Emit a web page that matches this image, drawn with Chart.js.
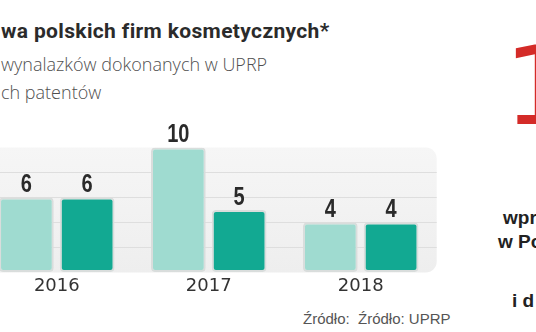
<!DOCTYPE html>
<html lang="pl">
<head>
<meta charset="utf-8">
<script src="https://cdn.jsdelivr.net/npm/chart.js@4.4.1/dist/chart.umd.min.js"></script>
<style>
  html, body { margin: 0; padding: 0; background: #fff; }
  body { width: 536px; height: 332px; overflow: hidden; position: relative; }
  .t { position: absolute; white-space: pre; }
  #title { left: 1px; top: 19px; font: 700 21px Roboto, sans-serif; letter-spacing: 0.35px; color: #2b2b2b; }
  .sub { left: 1px; font: 300 18px "Open Sans", sans-serif; color: #4f4f4f; }
  #src { left: 303px; top: 310px; font: 15px "Liberation Sans", Arial, sans-serif; color: #555; }
  #big { left: 504px; top: 33px; font: 400 108px "DejaVu Sans", sans-serif; color: #d42b28; line-height: 1; }
  .side { font: 700 19px "Liberation Sans", Arial, sans-serif; color: #222; }
  #chart { position: absolute; left: -40px; top: 100px; }
</style>
</head>
<body>
<div class="t" id="title">wa polskich firm kosmetycznych*</div>
<div class="t sub" style="top:52px">wynalazków dokonanych w UPRP</div>
<div class="t sub" style="top:80px">ch patentów</div>
<div class="t" id="src">Źródło:  Źródło: UPRP</div>
<div class="t" id="big">1</div>
<div class="t side" style="left:503px; top:207px">wpr</div>
<div class="t side" style="left:498px; top:231px">w Po</div>
<div class="t side" style="left:512px; top:290px">i d</div>
<canvas id="chart" width="500" height="200"></canvas>
<script>
var years = ['2016', '2017', '2018'];
var zgloszenia = [6, 10, 4];
var patenty = [6, 5, 4];
var yMax = 10;

// grey rounded panel behind the bars
var panel = {
  id: 'panel',
  beforeDraw: function (chart) {
    var a = chart.chartArea, ctx = chart.ctx;
    ctx.save();
    var g = ctx.createLinearGradient(0, a.top, 0, a.bottom);
    g.addColorStop(0, '#f6f6f6');
    g.addColorStop(1, '#eeeeee');
    ctx.fillStyle = g;
    ctx.beginPath();
    ctx.roundRect(a.left, a.top, a.right - a.left, a.bottom - a.top, 11);
    ctx.fill();
    ctx.restore();
  }
};

// numbers above the bars, squeezed to a narrow bold face
var values = {
  id: 'values',
  afterDatasetsDraw: function (chart) {
    var ctx = chart.ctx;
    chart.data.datasets.forEach(function (ds, i) {
      chart.getDatasetMeta(i).data.forEach(function (bar, j) {
        ctx.save();
        ctx.font = '700 25px "Liberation Sans", sans-serif';
        ctx.fillStyle = '#2a2a2a';
        ctx.textAlign = 'center';
        ctx.textBaseline = 'alphabetic';
        ctx.translate(bar.x, bar.y - 5.5);
        ctx.scale(0.8, 1);
        ctx.fillText(String(ds.data[j]), 0, 0);
        ctx.restore();
      });
    });
  }
};

new Chart(document.getElementById('chart'), {
  type: 'bar',
  data: {
    labels: years,
    datasets: [{
      label: 'zgłoszenia',
      data: zgloszenia,
      backgroundColor: '#9fdbd0',
      borderColor: '#d9dddc',
      borderWidth: 2,
      borderRadius: 4,
      borderSkipped: false
    }, {
      label: 'patenty',
      data: patenty,
      backgroundColor: '#12a992',
      borderColor: '#d9dddc',
      borderWidth: 2,
      borderRadius: 4,
      borderSkipped: false
    }]
  },
  options: {
    responsive: false,
    animation: false,
    layout: { padding: { left: 20.8, right: 23.3, top: 47.5, bottom: 0 } },
    plugins: {
      legend: { display: false },
      tooltip: { enabled: false }
    },
    scales: {
      x: {
        grid: { display: false },
        border: { display: false },
        ticks: { color: '#333', font: { family: 'DejaVu Sans', size: 18 }, padding: -5 },
        afterFit: function (scale) { scale.height = 27.5; }
      },
      y: {
        min: 0,
        max: yMax,
        ticks: { display: false, stepSize: 2 },
        border: { display: false },
        grid: {
          drawTicks: false,
          lineWidth: 1,
          color: function (c) {
            return (c.tick.value === 0 || c.tick.value === yMax) ? 'rgba(0,0,0,0)' : '#dedede';
          }
        }
      }
    }
  },
  plugins: [panel, values]
});
</script>
</body>
</html>
